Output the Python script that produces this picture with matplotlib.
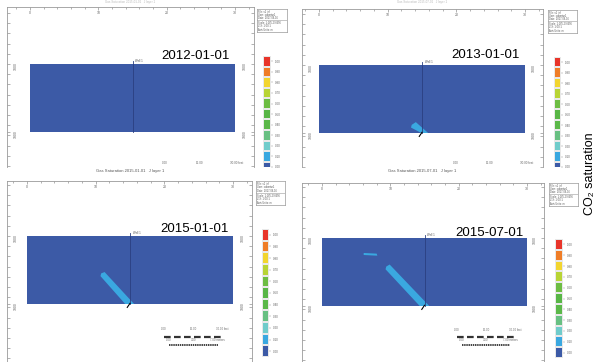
import numpy as np
import matplotlib
matplotlib.use("Agg")
import matplotlib.pyplot as plt
from matplotlib.colors import ListedColormap, BoundaryNorm
from matplotlib.ticker import MultipleLocator

plt.rcParams['font.family'] = ['Liberation Sans', 'DejaVu Sans']

# saturation classes of the simulator legend (bottom -> top)
levels = [0.00, 0.10, 0.20, 0.30, 0.40, 0.50, 0.60, 0.70, 0.80, 0.90, 1.00]
level_colors = ['#3c5aa6', '#3aa8e0', '#70cccb', '#68c082', '#5bb849', '#58b646',
                '#6dbd43', '#b8d435', '#f2d52f', '#ef7d27', '#e8352a']
cbar_labels = ['0.00', '0.10', '0.20', '0.30', '0.40', '0.50',
               '0.60', '0.70', '0.80', '0.90', '1.00']

dates = ['2012-01-01', '2013-01-01', '2015-01-01', '2015-07-01']
footers = ['Gas Saturation 2015-01-01   J layer 1', 'Gas Saturation 2015-07-01   J layer 1', '', '']

# model section: 30 units wide, 10 units deep, well at x = 15
section_x = [0.0, 30.0]
section_z = [0.0, 10.0]
background_sat = [[0.0]]
well_x = 15.0

# plume outlines (x, z) with saturation ~0.10
plume_2012 = []
plume_2013 = [[(13.5, 8.8), (14.1, 8.4), (15.9, 10.0), (14.9, 10.0), (13.4, 9.2)]]
plume_2015a = [[(10.8, 5.5), (11.3, 5.3), (15.6, 10.0), (14.3, 10.0), (10.7, 5.9)]]
plume_2015b = [[(9.4, 4.2), (9.9, 3.9), (15.7, 10.0), (14.3, 10.0), (9.3, 4.6)],
               [(6.1, 2.2), (8.0, 2.3), (8.1, 2.6), (6.1, 2.5)]]
plumes = [plume_2012, plume_2013, plume_2015a, plume_2015b]
plume_sat = 0.10

W, H = 598, 362
fig = plt.figure(figsize=(W / 100, H / 100), dpi=100)


def box(x0, y0, x1, y1):
    return [x0 / W, 1 - y1 / H, (x1 - x0) / W, (y1 - y0) / H]


bounds = [v - 0.05 for v in levels] + [1.05]
cmap = ListedColormap(level_colors)
norm = BoundaryNorm(bounds, cmap.N)

# layout of each screenshot, in pixels
panels = [
    dict(frame=(7, 7, 254, 167), rect=(30, 64, 235, 132), cbar=(263, 56, 271, 167),
         cmin=0.11, info=(257, 9, 287, 32), date=(230, 56), scale=False),
    dict(frame=(302, 9, 543, 167), rect=(319, 65, 525, 133), cbar=(554, 57, 561, 167),
         cmin=0.11, info=(548, 10, 577, 33), date=(520, 55), scale=False),
    dict(frame=(7, 181, 252, 362), rect=(27, 236, 233, 304), cbar=(262, 229, 269, 357),
         cmin=-0.05, info=(256, 181, 285, 205), date=(229, 229), scale=True),
    dict(frame=(302, 183, 544, 362), rect=(322, 238, 527, 306), cbar=(555, 239, 563, 358),
         cmin=-0.05, info=(549, 183, 578, 206), date=(524, 233), scale=True),
]

for i, p in enumerate(panels):
    fx0, fy0, fx1, fy1 = p['frame']
    rx0, ry0, rx1, ry1 = p['rect']
    sx = (rx1 - rx0) / (section_x[1] - section_x[0])
    sz = (ry1 - ry0) / (section_z[1] - section_z[0])

    ax = fig.add_axes(box(*p['frame']))
    ax.set_xlim((fx0 - rx0) / sx, (fx1 - rx0) / sx)
    ax.set_ylim((fy1 - ry0) / sz, (fy0 - ry0) / sz)
    for s in ['top', 'left', 'right']:
        ax.spines[s].set_color('#9a9a9a')
        ax.spines[s].set_linewidth(0.6)
    ax.spines['bottom'].set_visible(False)

    ax.xaxis.set_ticks_position('top')
    ax.set_xticks([0, 10, 20, 30])
    ax.set_xticklabels(['0', '10', '20', '30'])
    ax.xaxis.set_minor_locator(MultipleLocator(2))
    ax.tick_params(axis='x', which='both', direction='in', color='#777777',
                   labelsize=2.5, labelcolor='#666666', pad=-6, length=2, width=0.4)
    ax.tick_params(axis='x', which='minor', length=1.5)
    ax.yaxis.set_ticks_position('both')
    ax.set_yticks([0, 10])
    ax.set_yticklabels(['1800', '1900'])
    ax.yaxis.set_minor_locator(MultipleLocator(1.5))
    ax.tick_params(axis='y', which='both', direction='in', color='#777777',
                   labelsize=2.5, labelcolor='#666666', pad=-8, length=2, width=0.4,
                   labelrotation=90, labelright=True)

    # reservoir section and plume
    ax.pcolormesh(section_x, section_z, background_sat, cmap=cmap, norm=norm)
    for poly in plumes[i]:
        px, pz = zip(*poly)
        ax.fill(px, pz, color=cmap(norm(plume_sat)), lw=0)
    ax.plot([well_x, well_x], [-0.4, section_z[1]], color='#2b3f80', lw=0.6)
    ax.text(well_x + 0.4, -0.35, 'Well 1', fontsize=2, color='#555555')
    if i > 0:
        ax.plot([well_x - 0.4, well_x], [section_z[1] + 0.5, section_z[1] - 0.1],
                color='black', lw=0.8)

    if footers[i]:
        ax.text(0.5, -0.01, footers[i], transform=ax.transAxes, ha='center',
                va='top', fontsize=3, color='#555555')
        for v, lab in zip([0.64, 0.78, 0.93], ['0.00', '15.00', '30.00 feet']):
            ax.text(v, 0.01, lab, transform=ax.transAxes, ha='center', va='bottom',
                    fontsize=2.2, color='#666666')
        # faint caption of the screenshot above, mostly cropped in the original
        fig.text((fx0 + fx1) / 2 / W, 1 - 0.5 / H, footers[i], ha='center', va='top',
                 fontsize=2.2, color='#bbbbbb')

    if p['scale']:
        ax.plot([0.64, 0.88], [0.14, 0.14], transform=ax.transAxes, color='#333333',
                lw=1.6, dashes=(3, 1.5))
        ax.plot([0.66, 0.86], [0.095, 0.095], transform=ax.transAxes, color='#333333',
                lw=1.3, dashes=(0.8, 0.4))
        for v, lab in zip([0.64, 0.76, 0.88], ['0.00', '15.00', '30.00 feet']):
            ax.text(v, 0.17, lab, transform=ax.transAxes, ha='center', va='bottom',
                    fontsize=2, color='#666666')
        for v, lab in zip([0.66, 0.76, 0.86], ['0.00', '3.00', '7.00 meters']):
            ax.text(v, 0.11, lab, transform=ax.transAxes, ha='center', va='bottom',
                    fontsize=2, color='#666666')

    # legend bar
    cax = fig.add_axes(box(*p['cbar']))
    cax.pcolormesh([0, 1], bounds, np.array(levels).reshape(-1, 1), cmap=cmap, norm=norm,
                   edgecolor='#e8e8e8', linewidth=0.12)
    cax.set_ylim(p['cmin'], 1.05)
    cax.set_xlim(0, 1)
    for s in cax.spines.values():
        s.set_visible(False)
    cax.set_xticks([])
    cax.yaxis.tick_right()
    cax.set_yticks(levels)
    cax.set_yticklabels(cbar_labels)
    cax.tick_params(axis='y', labelsize=2.2, labelcolor='#666666', length=1.2,
                    width=0.3, color='#888888', pad=1.5)

    # info box
    iax = fig.add_axes(box(*p['info']))
    iax.set_xticks([])
    iax.set_yticks([])
    for s in iax.spines.values():
        s.set_color('#999999')
        s.set_linewidth(0.5)
    iax.axhline(0.52, color='#999999', lw=0.4)
    info_lines = ['File: v1 .irf', 'User: cobertur1', 'Date: 2017-06-16',
                  'Scale: 1:185.276656', 'Z/X: 1.00:1', 'Axis Units: m']
    for k, t in enumerate(info_lines):
        yy = 0.88 - k * 0.14 - (0.08 if k > 2 else 0)
        iax.text(0.05, yy, t, fontsize=1.8, color='#555555', va='center')

    # date label
    dx, dy = p['date']
    fig.text(dx / W, 1 - dy / H, dates[i], ha='right', va='center', fontsize=9.5,
             color='black')

fig.text(590 / W, 1 - 174 / H, 'CO₂ saturation', rotation=90, ha='center',
         va='center', fontsize=9, color='black')

fig.savefig('out.png', dpi=100)
